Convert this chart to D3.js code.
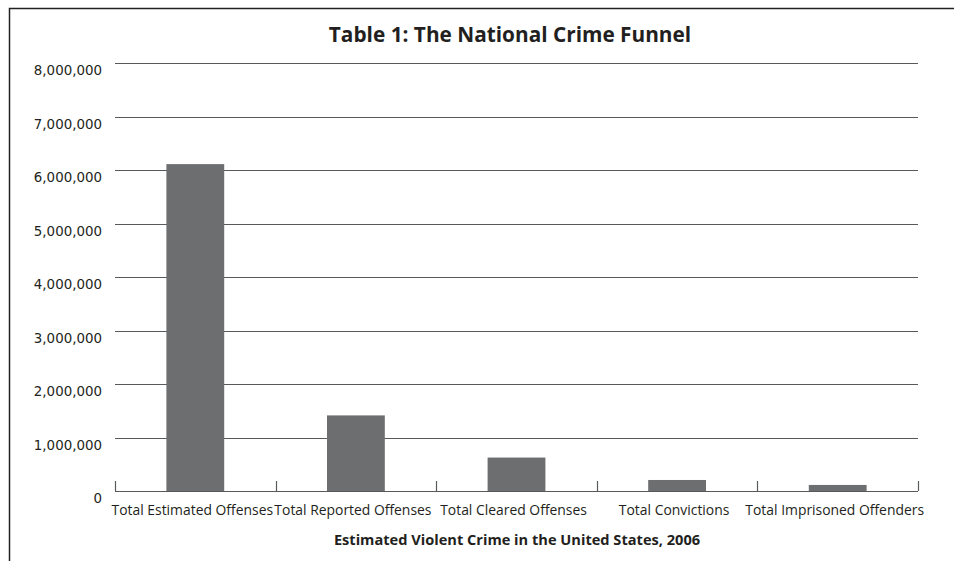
<!DOCTYPE html>
<html><head><meta charset="utf-8">
<script src="https://cdn.jsdelivr.net/npm/d3@7"></script>
<style>body{margin:0;background:#fff;}svg{display:block;}</style>
</head><body>
<svg id="chart" width="954" height="561"></svg>
<script>
const categories = ["Total Estimated Offenses","Total Reported Offenses","Total Cleared Offenses","Total Convictions","Total Imprisoned Offenders"];
const values = [6110000, 1413000, 625000, 206000, 113000];
const yTicks = [0,1000000,2000000,3000000,4000000,5000000,6000000,7000000,8000000];
const titleText = "Table 1: The National Crime Funnel";
const xTitleText = "Estimated Violent Crime in the United States, 2006";

const svg = d3.select("#chart");
const m = {left:115, right:918, top:63, bottom:491};
const x = d3.scaleBand().domain(categories).range([m.left, m.right]).padding(0);
const y = d3.scaleLinear().domain([0, 8000000]).range([m.bottom, m.top]);

// frame
svg.append("path").attr("d","M9.5,561 V8.5 H954").attr("fill","none").attr("stroke","#222").attr("stroke-width",1.5);

// title
svg.append("text").attr("x",510).attr("y",42).attr("text-anchor","middle")
  .attr("font-family","'Open Sans', sans-serif").attr("font-weight","bold").attr("font-size",20.8)
  .attr("fill","#231f20").text(titleText);

// grid
svg.append("g").selectAll("line").data(yTicks.filter(d=>d>0)).join("line")
  .attr("x1",m.left).attr("x2",m.right).attr("y1",d=>Math.round(y(d))+0.5).attr("y2",d=>Math.round(y(d))+0.5)
  .attr("stroke","#58595b").attr("stroke-width",1.2);

// y labels
const fmt = d3.format(",");
svg.append("g").selectAll("text").data(yTicks).join("text")
  .attr("x",102).attr("y",d=>y(d)+12).attr("text-anchor","end")
  .attr("font-family","'DejaVu Sans', sans-serif").attr("font-size",13.4).attr("fill","#231f20")
  .text(d=>fmt(d));

// bars
const bw = x.bandwidth()*0.36;
svg.append("g").selectAll("rect").data(values).join("rect")
  .attr("x",(d,i)=>x(categories[i])+x.bandwidth()/2-bw/2)
  .attr("width",bw)
  .attr("y",d=>y(d)).attr("height",d=>y(0)-y(d))
  .attr("fill","#6d6e70");

// x axis
const xAxis = d3.axisBottom(x).tickSize(0).tickPadding(0);
const gx = svg.append("g").attr("transform",`translate(0,${m.bottom})`).call(xAxis);
gx.select(".domain").remove();
gx.selectAll("text").attr("dy",null).attr("y",23.5).attr("x",-3)
  .attr("font-family","'Open Sans', sans-serif").attr("font-size",13.9).attr("fill","#231f20");
svg.append("line").attr("x1",m.left).attr("x2",m.right).attr("y1",m.bottom+0.5).attr("y2",m.bottom+0.5)
  .attr("stroke","#58595b").attr("stroke-width",1.2);
const bounds = categories.map(c=>x(c)).concat([m.right]);
svg.append("g").selectAll("line").data(bounds).join("line")
  .attr("x1",d=>Math.round(d)+0.5).attr("x2",d=>Math.round(d)+0.5).attr("y1",m.bottom-10).attr("y2",m.bottom)
  .attr("stroke","#58595b").attr("stroke-width",1.2);

// x title
svg.append("text").attr("x",517).attr("y",544.5).attr("text-anchor","middle")
  .attr("font-family","'Open Sans', sans-serif").attr("font-weight","bold").attr("font-size",14.6)
  .attr("fill","#231f20").text(xTitleText);
</script>
</body></html>
